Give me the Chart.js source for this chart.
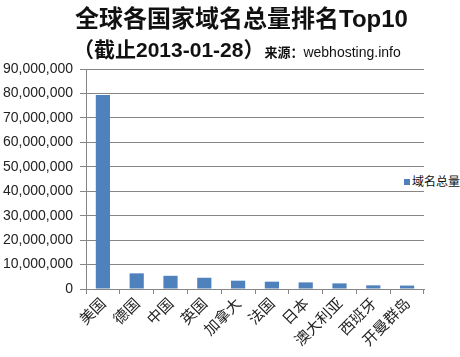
<!DOCTYPE html>
<html><head><meta charset="utf-8">
<script src="https://cdn.jsdelivr.net/npm/chart.js@4"></script>
<style>
html,body{margin:0;padding:0;background:#fff;}
#wrap{position:relative;width:460px;height:357px;overflow:hidden;}
canvas{position:absolute;left:0;top:0;}
.t1{position:absolute;left:75px;top:2px;white-space:nowrap;font-family:"Noto Sans CJK SC";font-weight:bold;font-size:24px;line-height:29px;color:#111;}
.t1 b{font-family:"Liberation Sans";}
.t2{position:absolute;left:73px;top:33px;white-space:nowrap;color:#111;font-family:"Noto Sans CJK SC";}
.t2 .a{font-weight:bold;font-size:21px;}
.t2 .a i{font-style:normal;font-family:"Liberation Sans";}
.t2 .b{font-weight:bold;font-size:13px;}
.t2 .c{font-family:"Liberation Sans";font-size:14px;}
.lg{position:absolute;left:404px;top:172px;font-family:"Noto Sans CJK SC";font-size:12px;color:#111;white-space:nowrap;background:#fff;padding-right:4px;}
.lg span{display:inline-block;width:6px;height:6px;background:#4F81BD;margin-right:2px;vertical-align:1px;}
</style></head>
<body><div id="wrap">
<canvas id="c" width="460" height="357"></canvas>
<div class="t1">全球各国家域名总量排名<b>Top10</b></div>
<div class="t2"><span class="a">（截止<i>2013-01-28</i>）</span><span class="b">来源：</span><span class="c">webhosting.info</span></div>
<div class="lg"><span></span>域名总量</div>
</div>
<script>
const categories = ["美国","德国","中国","英国","加拿大","法国","日本","澳大利亚","西班牙","开曼群岛"];
const seriesName = "域名总量";
const domainTotals = [79400000, 6400000, 5400000, 4600000, 3400000, 3000000, 2700000, 2300000, 1500000, 1400000];
const yTicks = [0,10000000,20000000,30000000,40000000,50000000,60000000,70000000,80000000,90000000];

new Chart(document.getElementById('c'), {
  type: 'bar',
  data: { labels: categories, datasets: [{ label: seriesName, data: domainTotals, backgroundColor: '#4F81BD', borderWidth: 0, categoryPercentage: 1, barPercentage: 0.42 }] },
  options: {
    responsive: false, animation: false,
    layout: { padding: { top: 69, right: 36, left: 0, bottom: 0 } },
    plugins: { legend: { display: false }, tooltip: { enabled: false } },
    scales: {
      y: {
        min: 0, max: 90000000,
        afterBuildTicks: s => { s.ticks = yTicks.map(v => ({ value: v })); },
        afterFit: s => { s.width = 86; },
        border: { color: '#868686', width: 1 },
        grid: { color: '#868686', tickLength: 6, tickColor: '#868686' },
        ticks: { color: '#222', padding: 7, font: { family: 'Liberation Sans', size: 14 },
          callback: v => v.toLocaleString('en-US') }
      },
      x: {
        afterFit: s => { s.height = 68; },
        border: { color: '#868686', width: 1 },
        grid: { offset: true, drawOnChartArea: false, tickLength: 5, tickColor: '#868686' },
        ticks: { color: '#222', minRotation: 45, maxRotation: 45, padding: 0, autoSkip: false,
          font: { family: 'Noto Sans CJK SC', size: 15 } }
      }
    }
  }
});
</script>
</body></html>
